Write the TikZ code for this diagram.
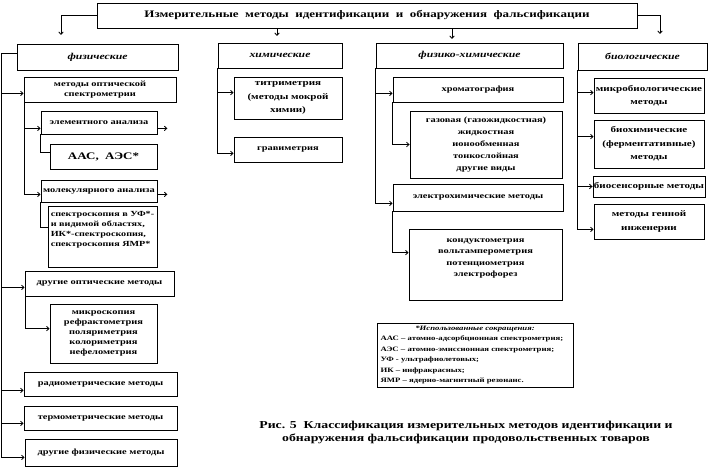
\documentclass[tikz,border=0pt]{standalone}
\usepackage{fontspec}
\setmainfont{Liberation Serif}[FakeStretch=1.3]
\usetikzlibrary{arrows.meta,calc}
\tikzset{
  box/.style={draw, line width=0.8pt, inner sep=1pt, align=center,
    font=\bfseries\fontsize{8}{10}\selectfont},
  bx/.style args={#1/#2/#3/#4}{minimum width=#3-#1, minimum height=#4-#2,
    at={({(#1+#3)/2},{-(#2+#4)/2})}},
  head/.style={font=\bfseries\itshape\fontsize{9}{11}\selectfont},
  big/.style={font=\bfseries\fontsize{8.5}{13.5}\selectfont},
  conn/.style={line width=0.8pt},
  arr/.style={conn, -{Straight Barb[length=2.5pt,width=4.5pt]}}
}
\begin{document}
\begin{tikzpicture}[x=1pt,y=1pt]
\fill[white] (0,0) rectangle (710,-468);
\useasboundingbox (0,0) rectangle (710,-468);
% title
\node[box,bx=97/3/637/28,font=\bfseries\fontsize{10}{12}\selectfont] (title)
  {Измерительные\ \ методы\ \ идентификации\ \ и\ \ обнаружения\ \ фальсификации};
% physical column
\node[box,head,bx=17/44/178/70] (phys) {физические};
\node[box,bx=24/77/176/102] (methods) {методы оптической\\спектрометрии};
\node[box,bx=41/111/157/134] (elem) {элементного анализа};
\node[box,bx=50/144/157/169,font=\bfseries\fontsize{10}{12}\selectfont] (aas) {ААС,\ \ АЭС*};
\node[box,bx=41/180/157/202] (molec) {молекулярного анализа};
\node[box,bx=48/206/157/267,align=left,font=\bfseries\fontsize{7.8}{10}\selectfont] (spectr)
  {спектроскопия в УФ*-\\и видимой областях,\\ИК*-спектроскопия,\\спектроскопия ЯМР*\\[5pt]};
\node[box,bx=25/271/174/296] (othopt) {другие оптические методы};
\node[box,bx=50/304/157/363] (micro) {микроскопия\\рефрактометрия\\поляриметрия\\колориметрия\\нефелометрия};
\node[box,bx=24/372/177/396] (radio) {радиометрические методы};
\node[box,bx=24/406/177/430] (thermo) {термометрические методы};
\node[box,bx=25/439/177/466] (othphys) {другие физические методы};
% chemical column
\node[box,head,bx=218/43/342/68] (chem) {химические};
\node[box,big,bx=234/77/342/119] (titr) {титриметрия\\(методы мокрой\\химии)};
\node[box,bx=234/137/342/162] (grav) {гравиметрия};
% physico-chemical column
\node[box,head,bx=376/43/563/68] (pchem) {физико-химические};
\node[box,bx=393/77/563/102] (chrom) {хроматография};
\node[box,font=\bfseries\fontsize{8}{12}\selectfont,bx=410/111/562/178] (gas)
  {газовая (газожидкостная)\\жидкостная\\ионообменная\\тонкослойная\\другие виды};
\node[box,bx=393/184/563/211] (elch) {электрохимические методы};
\node[box,font=\bfseries\fontsize{8}{11.5}\selectfont,bx=409/229/562/300] (kond)
  {кондуктометрия\\вольтамперометрия\\потенциометрия\\электрофорез\\[2pt]};
% biological column
\node[box,head,bx=578/43/707/70] (bio) {биологические};
\node[box,big,bx=594/78/704/113] (mbio) {микробиологические\\методы};
\node[box,big,bx=594/120/704/168] (bchem) {биохимические\\(ферментативные)\\методы};
\node[box,big,bx=594/176/704/197] (bsens) {биосенсорные методы};
\node[box,big,bx=594/204/704/239] (gene) {методы генной\\инженерии};
% legend
\node[box,bx=377/323/573/387,text width=189pt,align=left,inner sep=2pt,
  font=\bfseries\fontsize{6.7}{10.5}\selectfont] (legend)
  {\makebox[\linewidth][c]{\textit{*Использованные сокращения:}}\\
   ААС – атомно-адсорбционная спектрометрия;\\
   АЭС – атомно-эмиссионная спектрометрия;\\
   УФ - ультрафиолетовых;\\
   ИК – инфракрасных;\\
   ЯМР – ядерно-магнитный резонанс.};
% caption
\node[align=center,font=\bfseries\fontsize{10.6}{13}\selectfont] (cap) at (466,-432.5)
  {Рис. 5\ \ Классификация измерительных методов идентификации и\\обнаружения фальсификации продовольственных товаров};

% connectors from title
\coordinate (phIn) at (61,-35);
\coordinate (chIn) at (277,-36);
\coordinate (pcIn) at (452,-39);
\coordinate (biIn) at (660,-34);
\draw[arr] (title.west) -| (phIn);
\draw[arr] (title.south -| chIn) -- (chIn);
\draw[arr] (title.south -| pcIn) -- (pcIn);
\draw[arr] (title.east) -| (biIn);

% physical
\coordinate (meIn) at ([yshift=9pt]methods.south west);
\coordinate (elIn) at ([yshift=6pt]elem.south west);
\coordinate (aaIn) at ([yshift=17pt]aas.south west);
\coordinate (moIn) at ([yshift=8pt]molec.south west);
\coordinate (spIn) at ([yshift=-22pt]spectr.north west);
\coordinate (ooIn) at ([yshift=9pt]othopt.south west);
\coordinate (miIn) at ([yshift=-25pt]micro.north west);
\coordinate (raIn) at ([yshift=6pt]radio.south west);
\coordinate (thIn) at ([yshift=7pt]thermo.south west);
\coordinate (ohIn) at ([yshift=9pt]othphys.south west);
\coordinate (pbus) at (1,-53);
\draw[conn] (phys.west |- pbus) -- (pbus) -- (pbus |- ohIn);
\foreach \t in {meIn,ooIn,raIn,thIn,ohIn} \draw[arr] (pbus |- \t) -- (\t);
\coordinate (mbus) at ([xshift=1pt]methods.south west);
\draw[arr] (mbus) |- (elIn);
\draw[arr] (mbus) |- (moIn);
\draw[conn] (elem.south west) |- (aaIn);
\draw[conn] (molec.south west) |- (spIn);
\coordinate (ooBus) at ([xshift=1pt]othopt.south west);
\draw[arr] (ooBus) |- (miIn);
\coordinate (elR) at (elem.east |- elIn);
\coordinate (elOut) at ([xshift=10pt]elR);
\draw[arr] (elR) -- (elOut);
\coordinate (moR) at (molec.east |- moIn);
\coordinate (moOut) at ([xshift=10pt]moR);
\draw[arr] (moR) -- (moOut);

% chemical
\coordinate (trIn) at ([yshift=-16pt]titr.north west);
\coordinate (grIn) at ([yshift=9pt]grav.south west);
\draw[arr] (chem.south west) |- (trIn);
\draw[arr] (chem.south west) |- (grIn);

% physico-chemical
\coordinate (crIn) at ([yshift=9pt]chrom.south west);
\coordinate (gaIn) at (gas.west);
\coordinate (ecIn) at ([yshift=8pt]elch.south west);
\coordinate (koIn) at ([yshift=-24pt]kond.north west);
\draw[arr] (pchem.south west) |- (crIn);
\draw[arr] (pchem.south west) |- (ecIn);
\draw[arr] (chrom.south west) |- (gaIn);
\draw[arr] (elch.south west) |- (koIn);

% biological
\coordinate (mbIn) at ([yshift=-15pt]mbio.north west);
\coordinate (bcIn) at ([yshift=-17pt]bchem.north west);
\coordinate (bsIn) at (bsens.west);
\coordinate (geIn) at ([yshift=10pt]gene.south west);
\foreach \t in {mbIn,bcIn,bsIn,geIn} \draw[arr] (bio.south west) |- (\t);
\end{tikzpicture}
\end{document}
